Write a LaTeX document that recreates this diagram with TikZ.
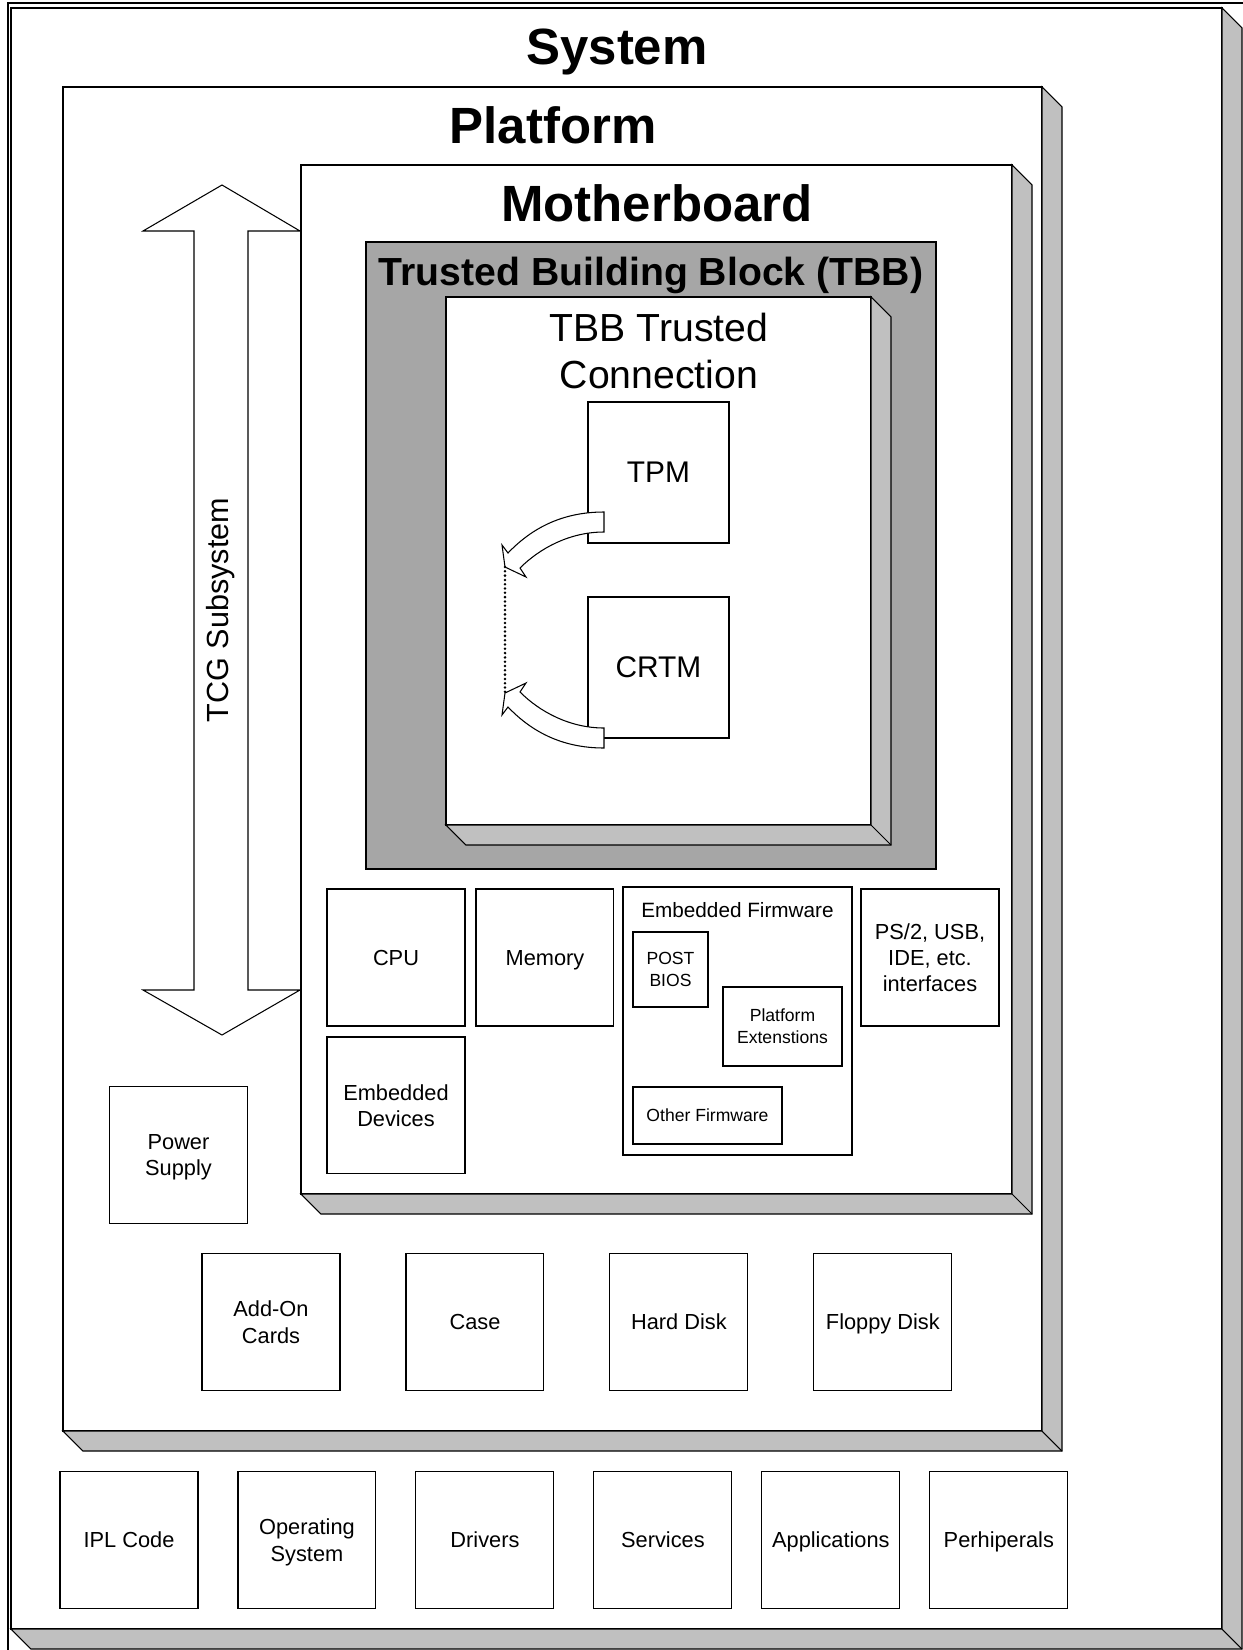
\documentclass[tikz,border=0pt]{standalone}
\usepackage{fontspec}
\setmainfont{Liberation Sans}
\usetikzlibrary{positioning,fit,calc}
\definecolor{sidegray}{RGB}{192,192,192}
\definecolor{tbbgray}{RGB}{166,166,166}
% gray side faces of a raised box
\newcommand{\slabshadow}[1]{%
  \draw[sideface] (#1.north east) -- ++(20,20) -- ($(#1.south east)+(20,20)$)
    -- ($(#1.south west)+(20,20)$) -- (#1.south west) -- (#1.south east) -- cycle;
  \draw[line width=0.6pt] (#1.south east) -- ++(20,20);}

\begin{document}
\begin{tikzpicture}[x=0.02cm,y=-0.02cm,line join=miter,
    slabbox/.style={draw,fill=white,line width=0.6pt,inner sep=0pt,outer sep=0pt},
    sideface/.style={draw,fill=sidegray,line width=0.6pt},
    partbox/.style={slabbox,align=center,minimum width=2.76cm,minimum height=2.74cm,
      text depth=0pt,font=\fontsize{12.4}{14.9}\selectfont},
    subbox/.style={slabbox,align=center,text depth=0pt,font=\fontsize{10}{12.4}\selectfont},
    headline/.style={font=\fontsize{29}{35}\selectfont\bfseries},
    blockarrow/.style={draw,fill=white,line width=0.6pt}]
  \useasboundingbox (0,0) rectangle (1243,1650);
  \draw[line width=1.2pt] (1243,3) -- (8,3) -- (8,1650);

  % system
  \node[slabbox,fit={(11,8) (1222,1629)}] (system) {};
  \slabshadow{system}
  \node[headline] (systemtitle) at (617,52) {System};

  % platform
  \node[slabbox,fit={(63,87) (1042,1431)}] (platform) {};
  \slabshadow{platform}
  \node[headline] (platformtitle) at (553,125) {Platform};

  % motherboard
  \node[slabbox,fit={(301,165) (1012,1194)}] (board) {};
  \slabshadow{board}
  \node[headline] (boardtitle) at (657,203) {Motherboard};

  % trusted building block
  \node[slabbox,fill=tbbgray,fit={(366,242) (936,869)}] (tbb) {};
  \node[font=\fontsize{22.3}{26.7}\selectfont\bfseries] (tbbtitle) at (651,275)
    {Trusted Building Block (TBB)};
  \node[slabbox,fit={(446,297) (871,825)}] (trusted) {};
  \slabshadow{trusted}
  \node[align=center,font=\fontsize{22.3}{26.7}\selectfont] (trustedtitle) at (659,351)
    {TBB Trusted\\Connection};
  \node[slabbox,minimum width=2.82cm,minimum height=2.82cm,
    font=\fontsize{17}{20}\selectfont] (tpm) at (658.5,472.5) {TPM};
  \node[slabbox,minimum width=2.82cm,minimum height=2.82cm,
    font=\fontsize{17}{20}\selectfont] (crtm) at (658.5,667.5) {CRTM};

  \coordinate (tipa) at (505,567);
  \coordinate (tipb) at (505,693);
  \draw[blockarrow] (604,512) .. controls (560,512) and (530,530) .. (508,553)
    -- (502,545) -- (tipa) -- (526,577) -- (520,568)
    .. controls (540,548) and (570,532) .. (604,532) -- cycle;
  \draw[blockarrow] (604,748) .. controls (560,748) and (530,730) .. (508,707)
    -- (502,715) -- (tipb) -- (526,683) -- (520,692)
    .. controls (540,712) and (570,728) .. (604,728) -- cycle;
  \draw[line width=1.6pt,line cap=round,dash pattern=on 0pt off 2.45pt] (tipa) -- (tipb);

  % motherboard parts
  \node[partbox] (cpu) at (396,957.5) {CPU};
  \node[partbox,right=0.22cm of cpu] (memory) {Memory};
  \node[partbox,below=0.22cm of cpu] (devices) {Embedded\\Devices};
  \node[partbox] (ports) at (930,957.5) {PS/2, USB,\\IDE, etc.\\interfaces};
  \node[slabbox,fit={(623,887) (852,1155)}] (firmware) {};
  \node[font=\fontsize{11.8}{14}\selectfont] (firmwaretitle) at (737.5,910) {Embedded Firmware};
  \node[subbox,minimum width=1.5cm,minimum height=1.5cm] (bios) at (670.5,969.5) {POST\\BIOS};
  \node[subbox,minimum width=2.38cm,minimum height=1.58cm] (extensions) at (782.5,1026.5)
    {Platform\\Extenstions};
  \node[subbox,minimum width=2.98cm,minimum height=1.14cm] (otherfw) at (707.5,1115.5)
    {Other Firmware};

  % tcg subsystem
  \draw[blockarrow] (222,185) -- (300,231) -- (248,231) -- (248,990) -- (300,990)
    -- (222,1035) -- (143,990) -- (194,990) -- (194,231) -- (143,231) -- cycle;
  \node[rotate=90,font=\fontsize{17.4}{20}\selectfont] (tcg) at (221,610) {TCG Subsystem};

  % platform parts
  \node[partbox] (power) at (178.5,1155) {Power\\Supply};
  \node[partbox] (addon) at (271,1322) {Add-On\\Cards};
  \node[partbox,right=1.32cm of addon] (case) {Case};
  \node[partbox,right=1.32cm of case] (harddisk) {Hard Disk};
  \node[partbox,right=1.32cm of harddisk] (floppy) {Floppy Disk};

  % system parts
  \node[partbox] (ipl) at (129,1540) {IPL Code};
  \node[partbox,right=0.8cm of ipl] (os) {Operating\\System};
  \node[partbox,right=0.8cm of os] (drivers) {Drivers};
  \node[partbox,right=0.8cm of drivers] (services) {Services};
  \node[partbox,right=0.6cm of services] (apps) {Applications};
  \node[partbox,right=0.6cm of apps] (periph) {Perhiperals};
\end{tikzpicture}
\end{document}
